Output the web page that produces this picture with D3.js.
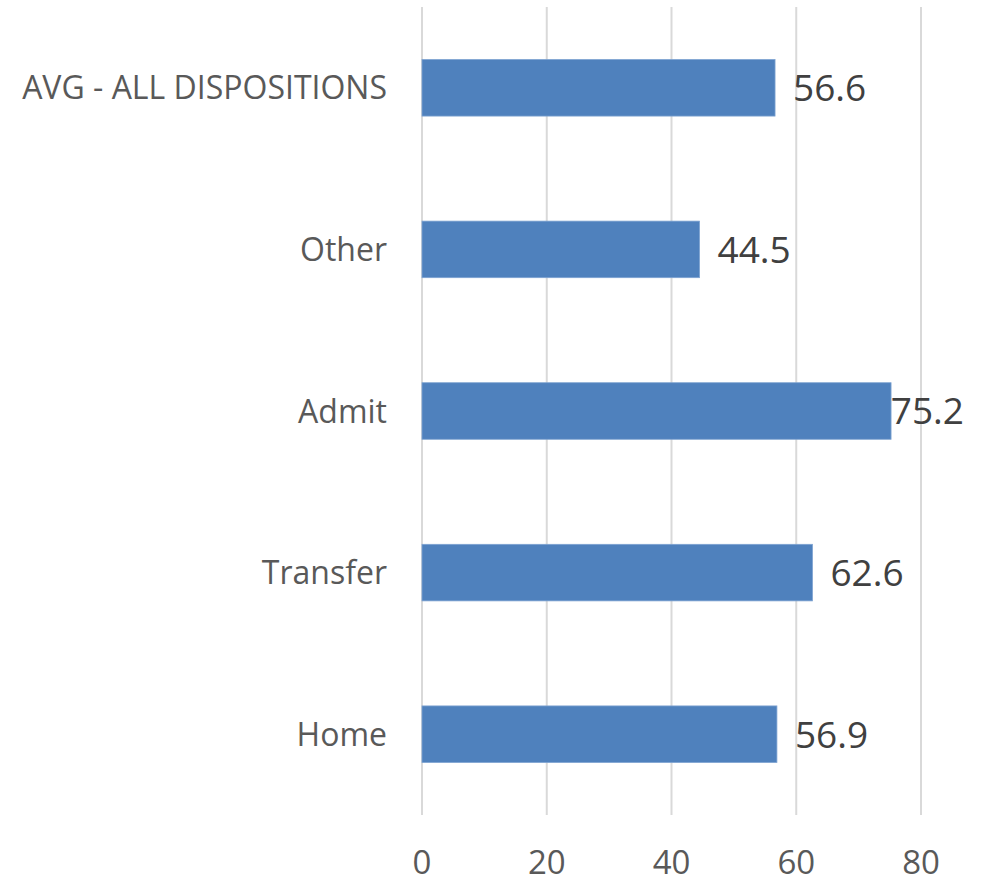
<!DOCTYPE html>
<html>
<head>
<meta charset="utf-8">
<script src="https://cdn.jsdelivr.net/npm/d3@7"></script>
<style>
  body { margin: 0; background: #fff; }
  svg text { font-family: "Open Sans", "Noto Sans", sans-serif; }
</style>
</head>
<body>
<svg id="chart" width="984" height="879"></svg>
<script>
"use strict";

// chart data
const categories = ["AVG - ALL DISPOSITIONS", "Other", "Admit", "Transfer", "Home"];
const values = [56.6, 44.5, 75.2, 62.6, 56.9];
const xTicks = [0, 20, 40, 60, 80];

let svg = d3.select("#chart"),
    plotTop = 7,
    plotBottom = 815,
    plotLeft = 422,
    plotRight = 921;

let x = d3.scaleLinear().domain([0, 80]).range([plotLeft, plotRight]);
let y = d3.scaleBand().domain(categories).range([plotTop, plotBottom])
          .paddingInner(0.65).paddingOuter(0.325);

// vertical gridlines
svg.append("g")
    .selectAll("line")
    .data(xTicks)
    .enter().append("line")
      .attr("x1", d => x(d)).attr("x2", d => x(d))
      .attr("y1", plotTop).attr("y2", plotBottom)
      .attr("stroke", "#d9d9d9")
      .attr("stroke-width", 2);

// x axis tick labels
svg.append("g")
    .selectAll("text")
    .data(xTicks)
    .enter().append("text")
      .attr("x", d => x(d))
      .attr("y", 874)
      .attr("text-anchor", "middle")
      .style("font-size", "33px")
      .style("fill", "#595959")
      .text(d => d);

// bars
svg.append("g")
    .selectAll("rect")
    .data(categories)
    .enter().append("rect")
      .attr("x", x(0))
      .attr("y", d => y(d))
      .attr("width", (d, i) => x(values[i]) - x(0))
      .attr("height", y.bandwidth())
      .attr("fill", "#4f81bd")
      .attr("stroke", "#7ea3d1")
      .attr("stroke-width", 0.8);

// category labels
svg.append("g")
    .selectAll("text")
    .data(categories)
    .enter().append("text")
      .attr("x", 387)
      .attr("y", d => y(d) + y.bandwidth() / 2)
      .attr("dy", "0.36em")
      .attr("text-anchor", "end")
      .style("font-size", "32px")
      .style("fill", "#595959")
      .text(d => d);

// value labels, pushed left if they would run off the right edge
svg.append("g")
    .selectAll("text")
    .data(categories)
    .enter().append("text")
      .attr("y", d => y(d) + y.bandwidth() / 2)
      .attr("dy", "0.36em")
      .style("font-size", "37px")
      .style("fill", "#404040")
      .text((d, i) => values[i].toFixed(1))
      .each(function(d, i) {
        let w = this.getComputedTextLength();
        let xPos = Math.min(x(values[i]) + 18, 964 - w);
        d3.select(this).attr("x", xPos);
      });
</script>
</body>
</html>
